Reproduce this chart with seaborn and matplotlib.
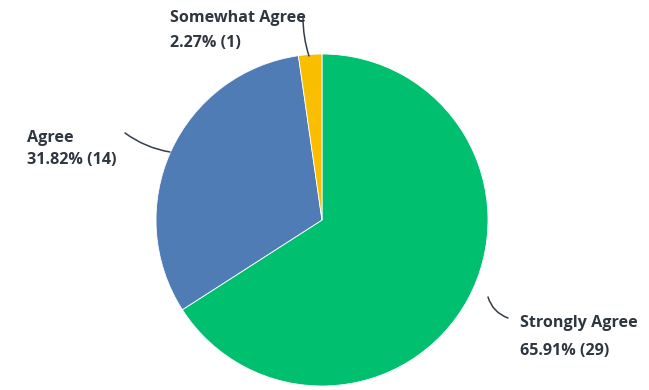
import matplotlib
matplotlib.use("Agg")
import matplotlib.pyplot as plt
import seaborn as sns

# Survey response shares
categories = ["Strongly Agree", "Agree", "Somewhat Agree"]
percents = [65.91, 31.82, 2.27]
counts = [29, 14, 1]
colors = ["#00BF6F", "#507CB6", "#F9BE00"]

sns.set_theme(style="white")
plt.rcParams["font.family"] = ["Open Sans", "DejaVu Sans"]

fig = plt.figure(figsize=(6.49, 3.90), dpi=100)
cx, cy, r = 322, 220, 166  # pie centre and radius in pixels
ax = fig.add_axes([(cx - r) / 649, (390 - cy - r) / 390, 2 * r / 649, 2 * r / 390])

ax.pie(percents, colors=colors, startangle=90, counterclock=False,
       wedgeprops=dict(linewidth=0.6, edgecolor="white"))
ax.set_xlim(-1, 1)
ax.set_ylim(-1, 1)
ax.set_aspect("equal")
ax.axis("off")

txt_color = "#2E3640"
line_color = "#333E48"


def px(x, y):
    return ((x - cx) / r, (cy - y) / r)


# label text (left edge, first-line y, second-line y), leader line (start, end), curvature
layout = {
    "Somewhat Agree": (170, 18, 43, (309, 56), (303, 17), 0.08),
    "Agree": (27, 138, 160, (170, 152), (125, 133), 0.12),
    "Strongly Agree": (520, 323, 351, (488, 297), (508, 318), -0.25),
}

for cat, pct, cnt in zip(categories, percents, counts):
    tx, ty1, ty2, p0, p1, rad = layout[cat]
    x, y = px(tx, ty1)
    ax.text(x, y, cat, ha="left", va="center", fontsize=11.6,
            fontweight="bold", color=txt_color, clip_on=False)
    x, y = px(tx, ty2)
    ax.text(x, y, f"{pct:.2f}% ({cnt})", ha="left", va="center", fontsize=11.6,
            fontweight="bold", color=txt_color, clip_on=False)
    ax.annotate("", xy=px(*p0), xytext=px(*p1),
                arrowprops=dict(arrowstyle="-", color=line_color, lw=1.1,
                                shrinkA=0, shrinkB=0,
                                connectionstyle=f"arc3,rad={rad}"),
                annotation_clip=False)

fig.savefig("out.png", dpi=100)
